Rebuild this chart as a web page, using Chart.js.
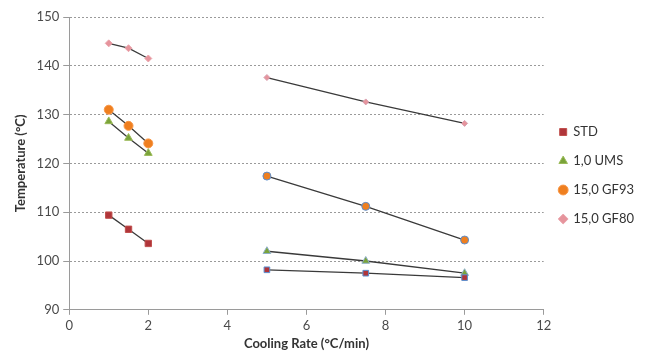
<!DOCTYPE html>
<html>
<head>
<meta charset="utf-8">
<script src="https://cdn.jsdelivr.net/npm/chart.js@4.4.1/dist/chart.umd.min.js"></script>
<style>
html,body{margin:0;padding:0;background:#fff;}
#wrap{width:647px;height:353px;}
</style>
</head>
<body>
<div id="wrap"><canvas id="c" width="647" height="353"></canvas></div>
<script>
const coolingRates = [1, 1.5, 2, 5, 7.5, 10];
const seriesNames = ["STD", "1,0 UMS", "15,0 GF93", "15,0 GF80"];
const stdValues  = [109.4, 106.5, 103.6, 98.2, 97.5, 96.6];
const umsValues  = [128.6, 125.2, 122.1, 102.0, 100.0, 97.5];
const gf93Values = [131.0, 127.7, 124.1, 117.4, 111.2, 104.3];
const gf80Values = [144.6, 143.6, 141.5, 137.6, 132.6, 128.2];
const xTicks = [0, 2, 4, 6, 8, 10, 12];
const yTicks = [90, 100, 110, 120, 130, 140, 150];

const pts = vals => coolingRates.map((x, i) => ({x: x, y: vals[i]}));
const blue = '#5b8fd0';
const grp = (a, b) => coolingRates.map(x => x < 3 ? a : b);
const seg = {borderColor: ctx => ((ctx.p0.parsed.x < 3 && ctx.p1.parsed.x > 3) ? 'rgba(0,0,0,0)' : '#3a3a3a')};

function ds(label, vals, style, fill, border1, border2, r1, r2) {
  return {
    label: label,
    data: pts(vals),
    showLine: true,
    borderColor: '#3a3a3a',
    borderWidth: 1.3,
    segment: seg,
    pointStyle: style,
    pointBackgroundColor: fill,
    pointBorderColor: grp(border1, border2),
    pointBorderWidth: 1,
    pointRadius: grp(r1, r2),
    pointHoverRadius: grp(r1, r2)
  };
}

new Chart(document.getElementById('c'), {
  type: 'scatter',
  data: {
    datasets: [
      ds(seriesNames[0], stdValues, 'rect', '#b0353a', '#c0504d', blue, 4.5, 4),
      ds(seriesNames[1], umsValues, 'triangle', '#7aa33a', '#9bbb59', '#8fb0c8', 4.5, 4.5),
      ds(seriesNames[2], gf93Values, 'circle', '#ef7f1f', '#f79646', blue, 4.5, 4),
      ds(seriesNames[3], gf80Values, 'rectRot', '#e6949c', '#eaa5ad', '#d8a0b0', 3.5, 3)
    ]
  },
  options: {
    responsive: false,
    animation: false,
    devicePixelRatio: 1,
    layout: {padding: {left: 13, right: 3, top: 17, bottom: 1}},
    plugins: {
      tooltip: {enabled: false},
      legend: {
        position: 'right',
        align: 'center',
        labels: {
          usePointStyle: true,
          boxWidth: 7,
          boxHeight: 7,
          padding: 16,
          color: '#333',
          font: {family: 'Lato', size: 13}
        }
      }
    },
    scales: {
      x: {
        type: 'linear',
        min: 0, max: 12,
        afterBuildTicks: a => { a.ticks = xTicks.map(v => ({value: v})); },
        grid: {display: true, drawOnChartArea: false, drawTicks: true, tickLength: 5, color: '#9a9a9a'},
        border: {color: '#9a9a9a', width: 1},
        ticks: {color: '#4a4a4a', font: {family: 'Lato', size: 13}, padding: 3},
        title: {display: true, text: 'Cooling Rate (°C/min)', color: '#333', font: {family: 'Lato', size: 13, weight: 'bold'}, padding: {top: 0, bottom: 0}}
      },
      y: {
        type: 'linear',
        min: 90, max: 150,
        afterBuildTicks: a => { a.ticks = yTicks.map(v => ({value: v})); },
        grid: {color: '#9a9a9a', lineWidth: 1, tickLength: 6, tickColor: '#9a9a9a', tickBorderDash: []},
        border: {color: '#9a9a9a', width: 1, dash: [2, 2]},
        ticks: {color: '#4a4a4a', font: {family: 'Lato', size: 13}, padding: 4},
        title: {display: true, text: 'Temperature (°C)', color: '#333', font: {family: 'Lato', size: 13, weight: 'bold'}, padding: {top: 0, bottom: 4}}
      }
    }
  },
  plugins: [{
    id: 'legendShift',
    afterLayout(chart) {
      const lg = chart.legend;
      if (lg) {
        lg.top -= 9;
        lg.bottom -= 9;
        if (lg.legendHitBoxes) lg.legendHitBoxes.forEach(h => { h.top -= 9; });
      }
    }
  }]
});
</script>
</body>
</html>
